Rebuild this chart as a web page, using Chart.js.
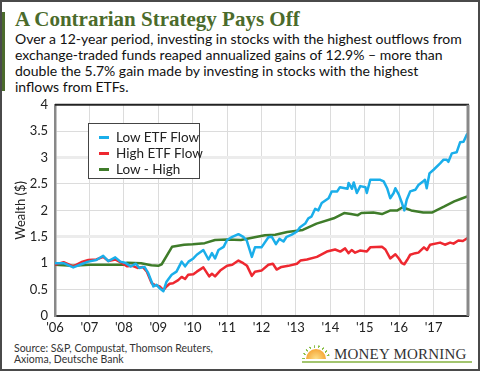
<!DOCTYPE html>
<html>
<head>
<meta charset="utf-8">
<script src="https://cdn.jsdelivr.net/npm/chart.js@4.4.1/dist/chart.umd.min.js"></script>
<style>
  html, body { margin: 0; padding: 0; background: #fff; }
  #frame {
    position: relative; width: 476px; height: 367px;
    border: 2px solid #4a4a4a; overflow: hidden; background: #fff;
  }
  #bar { position: absolute; left: 0; top: 10px; width: 3px; height: 79px; background: #4b6b2b; }
  #title {
    position: absolute; left: 13px; top: 5px; white-space: nowrap;
    font: bold 21px "Liberation Serif", serif; color: #4b6b2b; line-height: 24px;
  }
  #sub {
    position: absolute; left: 13px; top: 29px; white-space: nowrap;
    font: 14px Lato, sans-serif; color: #111; line-height: 16px;
  }
  #wrap { position: absolute; left: -2px; top: 88px; width: 480px; height: 245px; }
  #legend {
    position: absolute; left: 86px; top: 121px; width: 112px; height: 56px;
    border: 1.5px solid #444; background: #fff; box-sizing: border-box;
    font: 13.5px Lato, sans-serif; color: #222;
  }
  .item { position: absolute; left: 0; height: 16px; line-height: 16px; white-space: nowrap; }
  .item i { position: absolute; left: 10px; top: 7px; width: 10px; height: 2.5px; }
  .item span { position: absolute; left: 27px; top: 0; }
  #source {
    position: absolute; left: 12px; top: 341px; font: 10.5px Lato, sans-serif;
    color: #333; line-height: 10.5px; white-space: nowrap;
  }
  #logo { position: absolute; left: 298px; top: 343px; width: 172px; height: 20px; }
  #sun {
    position: absolute; left: 6px; top: 4px; width: 20px; height: 10px;
    border-radius: 10px 10px 0 0;
    background: radial-gradient(circle at 50% 100%, #fde08a 0, #f6a93b 70%, #ef8e2c 100%);
  }
  #rays {
    position: absolute; left: 2px; top: 0px; width: 28px; height: 14px;
    border-radius: 14px 14px 0 0;
    background: repeating-conic-gradient(from -90deg at 50% 100%, #8cc04a 0 6deg, transparent 6deg 20deg);
    -webkit-mask: radial-gradient(circle at 50% 100%, transparent 11px, #000 11.5px);
  }
  #mm {
    position: absolute; left: 34px; top: 1px; font: 15px "Liberation Serif", serif;
    color: #333; letter-spacing: 0.2px; white-space: nowrap;
  }
  #uline { position: absolute; left: 2px; top: 16px; width: 170px; height: 2px; background: #a3c56f; }
</style>
</head>
<body>
<div id="frame">
  <div id="bar"></div>
  <div id="title">A Contrarian Strategy Pays Off</div>
  <div id="sub">Over a 12-year period, investing in stocks with the highest outflows from<br>exchange-traded funds reaped annualized gains of 12.9% – more than<br>double the 5.7% gain made by investing in stocks with the highest<br>inflows from ETFs.</div>
  <div id="wrap"><canvas id="chart"></canvas></div>
  <div id="legend"></div>
  <div id="source">Source: S&amp;P, Compustat, Thomson Reuters,<br>Axioma, Deutsche Bank</div>
  <div id="logo"><div id="rays"></div><div id="sun"></div><div id="mm">MONEY MORNING</div><div id="uline"></div></div>
</div>
<script>
  "use strict";
  // x tick labels, one per year
  const tickYears = [2006, 2007, 2008, 2009, 2010, 2011, 2012, 2013, 2014, 2015, 2016, 2017];
  const tickLabels = ["'06", "'07", "'08", "'09", "'10", "'11", "'12", "'13", "'14", "'15", "'16", "'17"];
  const yTicks = [0, 0.5, 1, 1.5, 2, 2.5, 3, 3.5, 4];

  // Low ETF Flow
  const lowFlowX = [2006.0, 2006.25, 2006.53, 2006.8, 2006.97, 2007.2, 2007.4, 2007.55, 2007.75, 2007.9,
    2008.03, 2008.2, 2008.35, 2008.45, 2008.6, 2008.71, 2008.86, 2008.95, 2009.05, 2009.15,
    2009.24, 2009.39, 2009.53, 2009.68, 2009.78, 2009.88, 2010.02, 2010.12, 2010.31, 2010.46,
    2010.56, 2010.65, 2010.75, 2010.9, 2011.0, 2011.15, 2011.33, 2011.47, 2011.57, 2011.72,
    2011.81, 2012.0, 2012.2, 2012.3, 2012.42, 2012.52, 2012.64, 2012.73, 2012.88, 2013.03,
    2013.12, 2013.27, 2013.36, 2013.45, 2013.56, 2013.65, 2013.75, 2013.95, 2014.04, 2014.2,
    2014.28, 2014.5, 2014.53, 2014.63, 2014.68, 2014.77, 2014.87, 2015.02, 2015.06, 2015.16,
    2015.45, 2015.55, 2015.65, 2015.74, 2015.84, 2015.89, 2015.99, 2016.08, 2016.15, 2016.22,
    2016.32, 2016.47, 2016.56, 2016.7, 2016.75, 2016.8, 2016.88, 2017.0, 2017.19, 2017.29,
    2017.38, 2017.43, 2017.53, 2017.67, 2017.77, 2017.87, 2017.96, 2018.0];
  const lowFlowY = [1.00, 1.00, 0.92, 0.99, 1.03, 1.06, 1.14, 1.04, 1.11, 1.03,
    1.01, 0.94, 0.99, 0.91, 0.93, 0.81, 0.56, 0.59, 0.52, 0.47,
    0.65, 0.78, 0.84, 1.03, 0.94, 1.03, 1.09, 1.16, 1.25, 1.07,
    1.19, 1.09, 1.25, 1.31, 1.44, 1.50, 1.55, 1.50, 1.43, 1.12,
    1.30, 1.30, 1.49, 1.50, 1.36, 1.46, 1.41, 1.50, 1.54, 1.60,
    1.68, 1.75, 1.85, 1.88, 2.03, 2.00, 2.14, 2.23, 2.36, 2.36,
    2.44, 2.41, 2.52, 2.41, 2.53, 2.33, 2.46, 2.44, 2.33, 2.58,
    2.58, 2.55, 2.42, 2.23, 2.33, 2.42, 2.30, 2.14, 2.00, 2.20,
    2.36, 2.39, 2.48, 2.55, 2.58, 2.42, 2.70, 2.77, 2.89, 2.96,
    2.96, 2.92, 3.08, 3.10, 3.29, 3.30, 3.43, 3.46];

  // High ETF Flow
  const highFlowX = [2006.0, 2006.25, 2006.53, 2006.8, 2006.97, 2007.2, 2007.4, 2007.55, 2007.75, 2007.95,
    2008.1, 2008.25, 2008.4, 2008.55, 2008.67, 2008.81, 2008.9, 2009.04, 2009.15, 2009.24,
    2009.33, 2009.43, 2009.58, 2009.68, 2009.78, 2009.87, 2010.02, 2010.12, 2010.31, 2010.48,
    2010.56, 2010.65, 2010.8, 2011.0, 2011.15, 2011.33, 2011.47, 2011.58, 2011.72, 2011.81,
    2012.0, 2012.2, 2012.33, 2012.44, 2012.58, 2012.78, 2013.03, 2013.13, 2013.32, 2013.61,
    2013.9, 2014.14, 2014.29, 2014.43, 2014.53, 2014.62, 2014.72, 2014.86, 2015.06, 2015.16,
    2015.5, 2015.6, 2015.74, 2015.89, 2015.99, 2016.08, 2016.15, 2016.23, 2016.32, 2016.47,
    2016.56, 2016.72, 2016.81, 2016.9, 2017.19, 2017.33, 2017.48, 2017.58, 2017.72, 2017.85, 2018.0];
  const highFlowY = [0.97, 1.02, 0.94, 1.03, 1.06, 1.07, 1.12, 1.04, 1.07, 1.00,
    0.94, 0.95, 0.91, 0.93, 0.84, 0.62, 0.59, 0.56, 0.49, 0.56,
    0.61, 0.62, 0.68, 0.74, 0.70, 0.78, 0.79, 0.84, 0.92, 0.75,
    0.80, 0.75, 0.86, 0.95, 0.97, 1.05, 1.00, 0.95, 0.76, 0.84,
    0.86, 0.97, 0.99, 0.88, 0.93, 0.95, 0.99, 1.05, 1.07, 1.12,
    1.22, 1.26, 1.22, 1.28, 1.19, 1.25, 1.20, 1.24, 1.22, 1.30,
    1.31, 1.26, 1.09, 1.17, 1.09, 1.00, 0.98, 1.06, 1.16, 1.19,
    1.20, 1.30, 1.25, 1.35, 1.39, 1.35, 1.39, 1.37, 1.43, 1.42, 1.48];

  // Low - High
  const spreadX = [2006.0, 2006.5, 2007.0, 2007.5, 2008.0, 2008.1, 2008.5, 2008.8, 2009.0, 2009.1,
    2009.4, 2009.75, 2010.0, 2010.35, 2010.65, 2011.0, 2011.4, 2011.8, 2012.1, 2012.4,
    2012.75, 2013.2, 2013.6, 2014.1, 2014.4, 2014.6, 2014.8, 2014.9, 2015.25, 2015.5,
    2015.75, 2015.95, 2016.1, 2016.35, 2016.7, 2016.95, 2017.3, 2017.6, 2017.8, 2018.0];
  const spreadY = [0.97, 0.95, 0.97, 0.97, 0.97, 1.01, 1.00, 0.96, 0.95, 0.98,
    1.31, 1.35, 1.36, 1.38, 1.44, 1.45, 1.44, 1.49, 1.53, 1.54,
    1.59, 1.63, 1.75, 1.85, 1.95, 1.93, 1.91, 1.95, 1.96, 1.93,
    2.00, 2.00, 2.06, 2.00, 1.96, 1.96, 2.07, 2.17, 2.22, 2.27];

  const seriesNames = ["Low ETF Flow", "High ETF Flow", "Low - High"];
  const seriesColors = ["#1aaeea", "#ee2830", "#3f7c2a"];

  const toPoints = (xs, ys) => xs.map((x, i) => ({ x: x, y: ys[i] }));
  const isThick = v => v === 1.5 || v === 3;

  // plot frame (top and right edges)
  const framePlugin = {
    id: "frame",
    afterDraw(chart) {
      const { ctx, chartArea: a } = chart;
      ctx.save();
      ctx.strokeStyle = "#222";
      ctx.lineWidth = 2;
      ctx.beginPath();
      ctx.moveTo(a.left, a.top);
      ctx.lineTo(a.right + 1, a.top);
      ctx.stroke();
      ctx.strokeStyle = "#888";
      ctx.lineWidth = 3;
      ctx.beginPath();
      ctx.moveTo(a.right, a.top);
      ctx.lineTo(a.right, a.bottom);
      ctx.stroke();
      ctx.restore();
    }
  };

  const chart = new Chart(document.getElementById("chart"), {
    type: "line",
    data: {
      datasets: [
        { label: seriesNames[0], data: toPoints(lowFlowX, lowFlowY), borderColor: seriesColors[0] },
        { label: seriesNames[1], data: toPoints(highFlowX, highFlowY), borderColor: seriesColors[1] },
        { label: seriesNames[2], data: toPoints(spreadX, spreadY), borderColor: seriesColors[2] }
      ]
    },
    options: {
      responsive: true,
      maintainAspectRatio: false,
      animation: false,
      layout: { padding: { top: 10, right: 12, left: 0, bottom: 0 } },
      elements: {
        point: { radius: 0 },
        line: { borderWidth: 2.5, tension: 0, borderJoinStyle: "round" }
      },
      plugins: { legend: { display: false }, tooltip: { enabled: false } },
      scales: {
        x: {
          type: "linear",
          min: 2006,
          max: 2018,
          afterBuildTicks: scale => {
            scale.ticks = tickYears.concat([2018]).map(v => ({ value: v }));
          },
          afterFit: scale => { scale.height = 19; },
          ticks: {
            autoSkip: false,
            maxRotation: 0,
            padding: 4,
            color: "#222",
            font: { family: "Lato", size: 13 },
            callback: value => {
              const i = tickYears.indexOf(value);
              return i >= 0 ? tickLabels[i] : "";
            }
          },
          grid: { color: "#dcdcdc", lineWidth: 1, drawTicks: false },
          border: { color: "#333", width: 2 }
        },
        y: {
          min: 0,
          max: 4,
          afterBuildTicks: scale => {
            scale.ticks = yTicks.map(v => ({ value: v }));
          },
          afterFit: scale => { scale.width = 55; },
          ticks: {
            autoSkip: false,
            padding: 7,
            color: "#222",
            font: { family: "Lato", size: 13 },
            callback: value => String(value)
          },
          grid: {
            drawTicks: false,
            color: ctx => (ctx.tick && isThick(ctx.tick.value)) ? "#ececec" : "#dcdcdc",
            lineWidth: ctx => (ctx.tick && isThick(ctx.tick.value)) ? 3 : 1
          },
          border: { color: "#888", width: 2.5 },
          title: {
            display: true,
            text: "Wealth ($)",
            color: "#222",
            font: { family: "Lato", size: 13 },
            padding: { top: 13, bottom: 0 }
          }
        }
      }
    },
    plugins: [framePlugin]
  });

  // legend built from the datasets
  const legend = document.getElementById("legend");
  chart.data.datasets.forEach((ds, i) => {
    const item = document.createElement("div");
    item.className = "item";
    item.style.top = (5 + i * 16) + "px";
    const mark = document.createElement("i");
    mark.style.background = ds.borderColor;
    const text = document.createElement("span");
    text.textContent = ds.label;
    item.appendChild(mark);
    item.appendChild(text);
    legend.appendChild(item);
  });
</script>
</body>
</html>
